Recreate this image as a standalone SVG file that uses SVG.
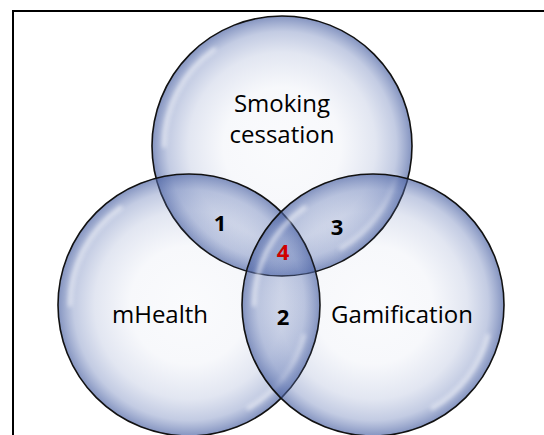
<svg xmlns="http://www.w3.org/2000/svg" width="544" height="435" viewBox="0 0 544 435">
  <style>
    .bubble { fill: url(#glass); stroke: #111; stroke-width: 1.6; }
    .hl { fill: none; stroke: #ffffff; stroke-width: 4; stroke-linecap: round; opacity: 0.6; filter: url(#soft); }
    .lbl { font-family: "Open Sans", "Liberation Sans", sans-serif; font-size: 24px; fill: #000; text-anchor: middle; }
    .num { font-family: "Open Sans", "Liberation Sans", sans-serif; font-size: 22px; font-weight: bold; fill: #000; text-anchor: middle; }
    .red { fill: #d00000; }
  </style>
  <defs>
    <radialGradient id="glass" cx="50%" cy="50%" r="50%">
      <stop offset="0%" stop-color="#5d74b3" stop-opacity="0.03"/>
      <stop offset="45%" stop-color="#5d74b3" stop-opacity="0.05"/>
      <stop offset="72%" stop-color="#5d74b3" stop-opacity="0.18"/>
      <stop offset="88%" stop-color="#5d74b3" stop-opacity="0.37"/>
      <stop offset="100%" stop-color="#4a61a2" stop-opacity="0.68"/>
    </radialGradient>
    <filter id="soft" x="-20%" y="-20%" width="140%" height="140%">
      <feGaussianBlur stdDeviation="2"/>
    </filter>
  </defs>
  <rect x="0" y="0" width="544" height="435" fill="#ffffff"/>
  <rect x="13" y="11" width="600" height="500" fill="none" stroke="#000" stroke-width="2"/>

  <g id="smoking">
    <circle class="bubble" cx="282" cy="146" r="130"/>
    <path class="hl" d="M164,146 A118,118 0 0 1 214.3,49.4"/>
    <path class="hl" d="M396,176.5 A118,118 0 0 1 341,248.2"/>
  </g>
  <g id="mhealth">
    <circle class="bubble" cx="189" cy="305" r="131"/>
    <path class="hl" d="M70,305 A119,119 0 0 1 120.7,207.5"/>
    <path class="hl" d="M303.9,335.8 A119,119 0 0 1 248.5,408.1"/>
  </g>
  <g id="gamification">
    <circle class="bubble" cx="373" cy="305" r="131"/>
    <path class="hl" d="M254,305 A119,119 0 0 1 304.7,207.5"/>
    <path class="hl" d="M487.9,335.8 A119,119 0 0 1 432.5,408.1"/>
  </g>

  <g id="labels">
    <text class="lbl" x="282" y="112">Smoking</text>
    <text class="lbl" x="282" y="143">cessation</text>
    <text class="lbl" x="160" y="323">mHealth</text>
    <text class="lbl" x="402" y="323">Gamification</text>
    <text class="num" x="220" y="231">1</text>
    <text class="num" x="283" y="325">2</text>
    <text class="num" x="337" y="235">3</text>
    <text class="num red" x="283" y="260">4</text>
  </g>
  <g id="connectors"></g>
</svg>
